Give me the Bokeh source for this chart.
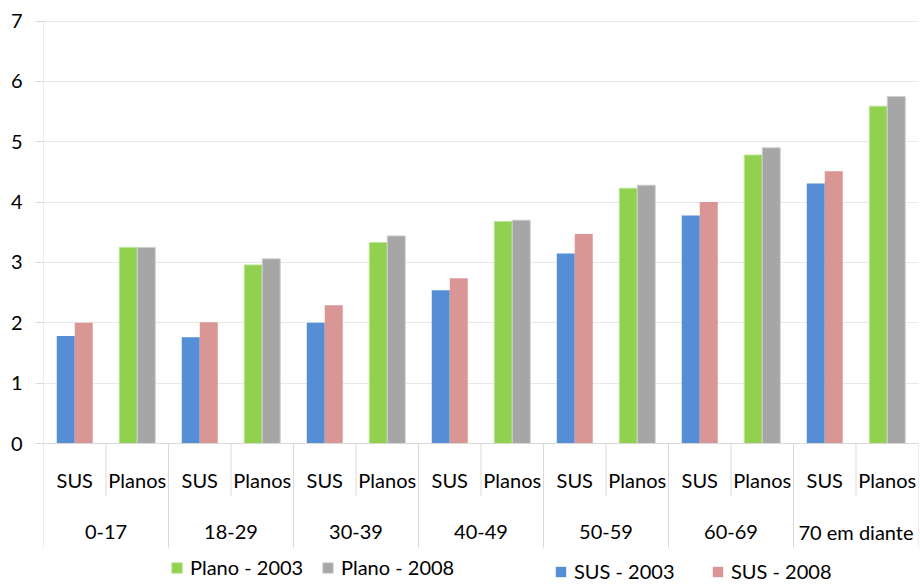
from bokeh.plotting import figure
from bokeh.models import (ColumnDataSource, FactorRange, Range1d, FixedTicker,
                          Legend, LegendItem)
from bokeh.transform import dodge
from bokeh.core.properties import value
from bokeh.embed import file_html
from bokeh.resources import INLINE

# ---- data ----
groups = ["0-17", "18-29", "30-39", "40-49", "50-59", "60-69", "70 em diante"]
subs = ["SUS", "Planos"]
sus_2003 = [1.78, 1.76, 2.00, 2.54, 3.15, 3.78, 4.31]
sus_2008 = [2.00, 2.01, 2.29, 2.74, 3.47, 4.00, 4.51]
plano_2003 = [3.25, 2.96, 3.33, 3.68, 4.23, 4.78, 5.59]
plano_2008 = [3.25, 3.06, 3.44, 3.70, 4.28, 4.90, 5.75]
y_ticks = [0, 1, 2, 3, 4, 5, 6, 7]

FONT = "Lato"
FS = "20px"
GRID = "#D9D9D9"

factors = [(g, s) for g in groups for s in subs]

p = figure(width=920, height=584, output_backend="svg", toolbar_location=None,
           x_range=FactorRange(*factors, factor_padding=0, group_padding=0,
                               subgroup_padding=0, range_padding=0),
           y_range=Range1d(-2.335, 7.34),
           x_axis_location=None)
p.min_border_left = 43
p.min_border_right = 2
p.min_border_top = 0
p.min_border_bottom = 0
p.outline_line_color = None
p.background_fill_color = "white"

# y axis
yax = p.yaxis[0]
yax.ticker = FixedTicker(ticks=y_ticks)
yax.axis_line_color = None
yax.major_tick_line_color = GRID
yax.major_tick_in = 0
yax.major_tick_out = 8
yax.minor_tick_line_color = None
yax.major_label_standoff = 13
yax.major_label_text_font = FONT
yax.major_label_text_font_size = FS
yax.major_label_text_color = "#000000"

p.xgrid.visible = False
p.ygrid.ticker = FixedTicker(ticks=y_ticks[1:])
p.ygrid.grid_line_color = "#D0D0D0"
p.ygrid.grid_line_dash = "1 1"
p.ygrid.grid_line_width = 1

# bars
src_sus = ColumnDataSource(dict(x=[(g, "SUS") for g in groups], a=sus_2003, b=sus_2008))
src_pl = ColumnDataSource(dict(x=[(g, "Planos") for g in groups], a=plano_2003, b=plano_2008))
W = 0.288
r_s3 = p.vbar(x=dodge("x", -W / 2, range=p.x_range), top="a", width=W, source=src_sus,
              fill_color="#558ED5", line_color=None)
r_s8 = p.vbar(x=dodge("x", W / 2, range=p.x_range), top="b", width=W, source=src_sus,
              fill_color="#D99694", line_color=None)
r_p3 = p.vbar(x=dodge("x", -W / 2, range=p.x_range), top="a", width=W, source=src_pl,
              fill_color="#92D050", line_color="#BDE49A", line_width=1)
r_p8 = p.vbar(x=dodge("x", W / 2, range=p.x_range), top="b", width=W, source=src_pl,
              fill_color="#A6A6A6", line_color="#CFCFCF", line_width=1)

# category axis drawn by hand: baseline, separators, labels
first, last = groups[0], groups[-1]
p.segment(x0=[(first, "SUS", -0.5)], y0=[0], x1=[(last, "Planos", 0.5)], y1=[0],
          line_color=GRID, line_width=1)
# left line (value axis + separator)
p.segment(x0=[(first, "SUS", -0.5)], y0=[7], x1=[(first, "SUS", -0.5)], y1=[-1.725],
          line_color=GRID, line_width=1)
long_x = [(g, "Planos", 0.5) for g in groups]
p.segment(x0=long_x, y0=[0] * len(long_x), x1=long_x, y1=[-1.725] * len(long_x),
          line_color=GRID, line_width=1)
short_x = [(g, "SUS", 0.5) for g in groups]
p.segment(x0=short_x, y0=[0] * len(short_x), x1=short_x, y1=[-0.862] * len(short_x),
          line_color=GRID, line_width=1)

p.text(x=factors, y=[-0.6] * len(factors), text=[f[1] for f in factors],
       text_font=value(FONT), text_font_size=FS, text_align="center",
       text_baseline="middle", text_color="#000000")
p.text(x=[(g, "SUS", 0.5) for g in groups], y=[-1.47] * len(groups), text=groups,
       text_font=value(FONT), text_font_size=FS, text_align="center",
       text_baseline="middle", text_color="#000000")

# legends (one item each, placed manually)
def add_leg(label, renderer, loc):
    lg = Legend(items=[LegendItem(label=label, renderers=[renderer])], location=loc,
                orientation="horizontal", border_line_color=None,
                background_fill_alpha=0, padding=0, margin=0, spacing=0,
                glyph_width=13, glyph_height=13, label_standoff=7,
                label_text_font=FONT, label_text_font_size=FS,
                label_text_color="#000000")
    p.add_layout(lg, "center")

add_leg("Plano - 2003", r_p3, (127, 5))
add_leg("Plano - 2008", r_p8, (278, 5))
add_leg("SUS - 2003", r_s3, (511, 1))
add_leg("SUS - 2008", r_s8, (668, 1))

open("out.html", "w").write(file_html(p, INLINE))
